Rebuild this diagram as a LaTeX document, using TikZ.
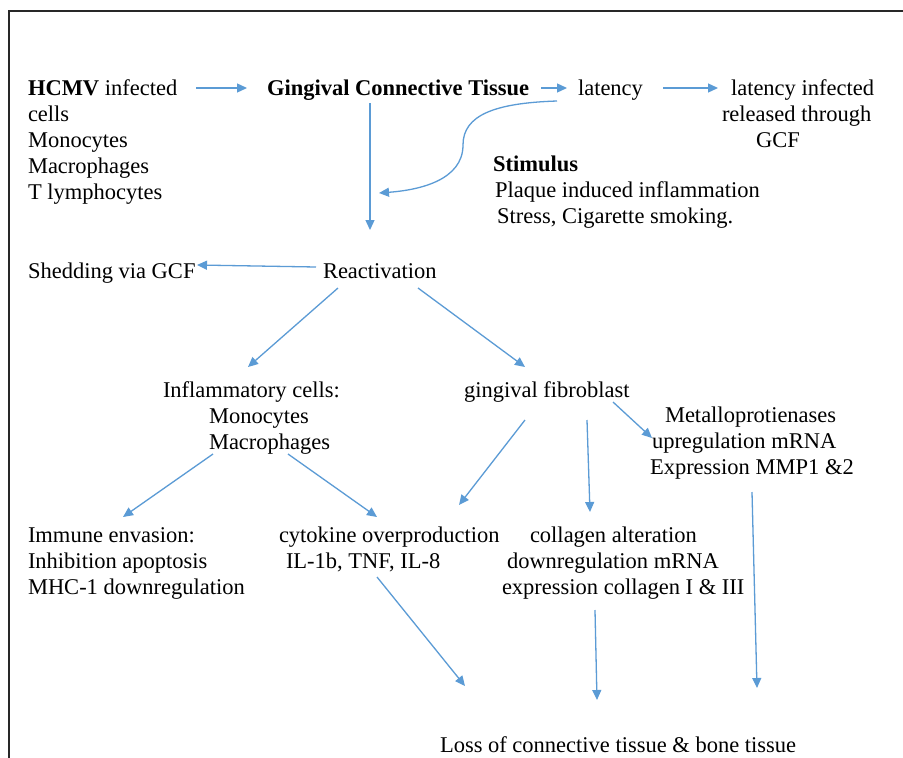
\documentclass[tikz,border=0pt]{standalone}
\usepackage{fontspec}
\setmainfont{Liberation Serif}
\usetikzlibrary{arrows.meta,calc}
\definecolor{arrowblue}{RGB}{91,155,213}
\definecolor{framegray}{RGB}{40,40,40}
\tikzset{
  txt/.style={anchor=north west, inner sep=0pt, outer sep=0pt, align=left,
    font=\fontsize{22.5}{26}\selectfont, text=black},
  ctxt/.style={txt, align=center},
  arr/.style={draw=arrowblue, line width=1.3pt,
    -{Triangle[length=10pt,width=9pt]}, fill=none},
}
\newcommand{\fl}{\rule{0pt}{18pt}}
\begin{document}
\begin{tikzpicture}[x=1pt,y=-1pt]
\useasboundingbox (0,0) rectangle (903,758);
\fill[white] (0,0) rectangle (903,758);
\draw[framegray, line width=2pt] (903,11) -- (9,11) -- (9,758);

% nodes
\node[txt] (hcmv) at (28,77) {\fl\textbf{HCMV} infected\\cells\\Monocytes\\Macrophages\\T lymphocytes};
\node[txt] (gct) at (267,77) {\fl\textbf{Gingival Connective Tissue}};
\node[txt] (lat) at (578,77) {\fl latency};
\node[txt] (latinf) at (722,77) {\fl\hspace*{9pt}latency infected\\released through\\\hspace*{34pt}GCF};
\node[txt] (stim) at (493,153) {\fl\textbf{Stimulus}\\\hspace*{2pt}Plaque induced inflammation\\\hspace*{4pt}Stress, Cigarette smoking.};
\node[txt] (shed) at (28,260) {\fl Shedding via GCF};
\node[txt] (react) at (323,260) {\fl Reactivation};
\node[txt] (infl) at (163,379) {\fl Inflammatory cells:\\\hspace*{46pt}Monocytes\\\hspace*{46pt}Macrophages};
\node[txt] (fib) at (464,379) {\fl gingival fibroblast};
\node[txt] (mmp) at (650,404) {\fl\hspace*{15pt}Metalloprotienases\\\hspace*{2pt}upregulation mRNA\\Expression MMP1 \&2};
\node[txt] (immune) at (28,524) {\fl Immune envasion:\\Inhibition apoptosis\\MHC-1 downregulation};
\node[txt] (cyto) at (279,524) {\fl cytokine overproduction\\\hspace*{7pt}IL-1b, TNF, IL-8};
\node[txt] (coll) at (502,524) {\fl\hspace*{28pt}collagen alteration\\\hspace*{5pt}downregulation mRNA\\expression collagen I \& III};
\node[txt] (loss) at (440,734) {\fl Loss of connective tissue \& bone tissue};

% connectors
\draw[arr] ($(hcmv.north west)+(168,11)$) -- ($(gct.north west)+(-20,11)$);
\draw[arr] ($(gct.north west)+(274,11)$) -- ($(lat.north west)+(-11,11)$);
\draw[arr] ($(lat.north west)+(85,11)$) -- ($(latinf.north west)+(-4,11)$);
\draw[arr] ($(gct.north west)+(103,26)$) -- ($(react.north west)+(47,-30)$);
\coordinate (bend) at ($(lat.north west)+(-115,68)$);
\draw[arr] ($(lat.north west)+(-21,24)$) .. controls +(-62,2) and +(0,-30) .. (bend)
  .. controls +(0,35) and +(41,-3) .. ($(react.north west)+(56,-67)$);
\draw[arr] ($(react.north west)+(-7,7)$) -- ($(shed.north west)+(169,5)$);
\draw[arr] ($(react.north west)+(15,28)$) -- ($(infl.north west)+(85,-12)$);
\draw[arr] ($(react.north west)+(95,28)$) -- ($(fib.north west)+(61,-12)$);
\draw[arr] ($(infl.north west)+(50,75)$) -- ($(immune.north west)+(95,-7)$);
\draw[arr] ($(infl.north west)+(125,75)$) -- ($(cyto.north west)+(98,-7)$);
\draw[arr] ($(fib.north west)+(61,41)$) -- ($(cyto.north west)+(180,-19)$);
\draw[arr] ($(fib.north west)+(123,41)$) -- ($(coll.north west)+(88,-12)$);
\draw[arr] ($(fib.north west)+(149,23)$) -- ($(mmp.north west)+(2,34)$);
\draw[arr] ($(cyto.north west)+(98,53)$) -- ($(loss.north west)+(25,-48)$);
\draw[arr] ($(coll.north west)+(93,86)$) -- ($(loss.north west)+(157,-34)$);
\draw[arr] ($(mmp.north west)+(102,88)$) -- ($(loss.north west)+(317,-46)$);
\end{tikzpicture}
\end{document}
